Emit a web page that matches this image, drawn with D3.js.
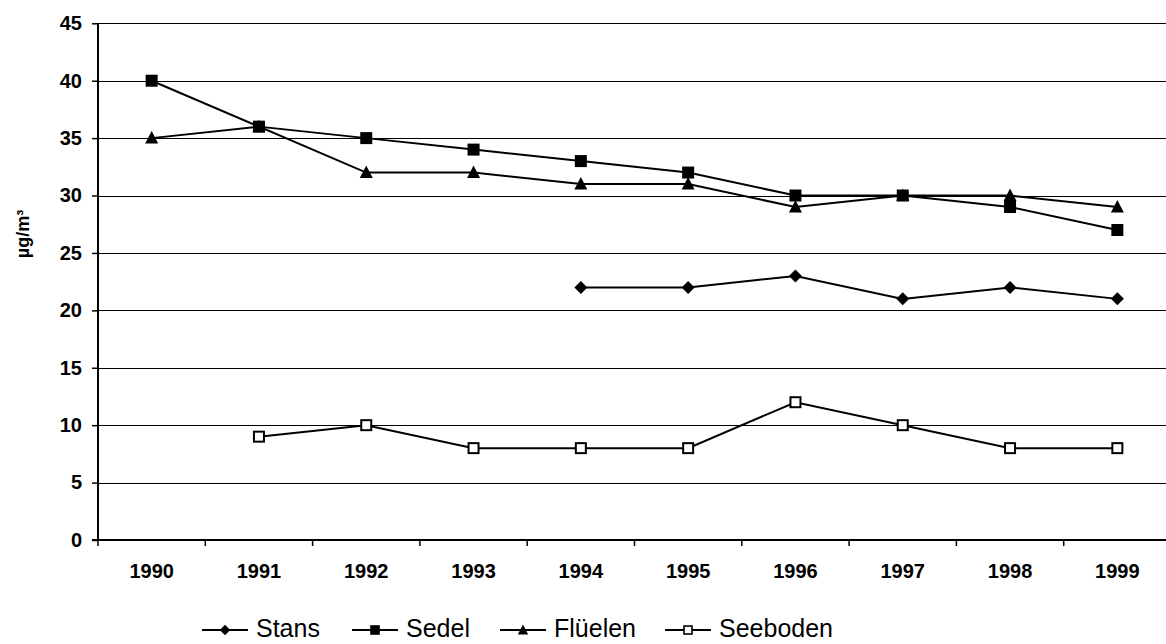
<!DOCTYPE html>
<html><head><meta charset="utf-8">
<script src="https://cdn.jsdelivr.net/npm/d3@7/dist/d3.min.js"></script>
<style>body{margin:0;background:#fff}svg{display:block}</style>
</head><body>
<svg id="c" width="1166" height="644"></svg>
<script>
const years = ["1990","1991","1992","1993","1994","1995","1996","1997","1998","1999"];
const stans    = [null,null,null,null,22,22,23,21,22,21];
const sedel    = [40,36,35,34,33,32,30,30,29,27];
const flueelen = [35,36,32,32,31,31,29,30,30,29];
const seeboden = [null,9,10,8,8,8,12,10,8,8];
const yTicks = [0,5,10,15,20,25,30,35,40,45];
const seriesNames = ["Stans","Sedel","Flüelen","Seeboden"];
const seriesData = [stans, sedel, flueelen, seeboden];
const markerTypes = ["diamond","square","triangle","opensquare"];

const svg = d3.select("#c");
const L = 98, R = 1171, T = 23.3, B = 540;
const x = d3.scaleBand().domain(years).range([L, R]);
const y = d3.scaleLinear().domain([0,45]).range([B, T]);
const font = "Liberation Sans, Arial, sans-serif";

// gridlines
svg.append("g").selectAll("line").data(yTicks.filter(d=>d>0)).join("line")
  .attr("x1",L).attr("x2",1166).attr("y1",d=>Math.round(y(d))+0.5).attr("y2",d=>Math.round(y(d))+0.5)
  .attr("stroke","#000").attr("stroke-width",1);

// y axis
const yAxis = d3.axisLeft(y).tickValues(yTicks).tickSize(6).tickPadding(10);
const gy = svg.append("g").attr("transform",`translate(${L},0)`).call(yAxis);
gy.select(".domain").attr("stroke-width",2).attr("d",`M0,${B}V${T}`);
gy.selectAll(".tick line").attr("stroke-width",1.5);
gy.selectAll(".tick text").attr("font-family",font).attr("font-weight","bold").attr("font-size",20).attr("fill","#000");

// x axis
const gx = svg.append("g").attr("transform",`translate(0,${B})`);
gx.append("line").attr("x1",L-6).attr("x2",1166).attr("y1",0).attr("y2",0).attr("stroke","#000").attr("stroke-width",2);
const bounds = years.map(d=>x(d)).concat([R]).filter(v=>v<=1166);
gx.selectAll("line.tk").data(bounds).join("line").attr("class","tk")
  .attr("x1",d=>d).attr("x2",d=>d).attr("y1",0).attr("y2",6).attr("stroke","#000").attr("stroke-width",1.5);
gx.selectAll("text").data(years).join("text")
  .attr("x",d=>x(d)+x.bandwidth()/2).attr("y",38)
  .attr("text-anchor","middle").attr("font-family",font).attr("font-weight","bold").attr("font-size",20).text(d=>d);

// y title
svg.append("text").attr("transform",`translate(29,234) rotate(-90)`)
  .attr("text-anchor","middle").attr("font-family",font).attr("font-weight","bold").attr("font-size",18).text("µg/m³");

function drawMarker(g, type, cx, cy, k){
  if(type==="diamond"){
    const s = 6.5*k;
    g.append("path").attr("d",`M${cx},${cy-s}L${cx+s},${cy}L${cx},${cy+s}L${cx-s},${cy}Z`).attr("fill","#000");
  } else if(type==="square"){
    const s = 6*k;
    g.append("rect").attr("x",cx-s).attr("y",cy-s).attr("width",2*s).attr("height",2*s).attr("fill","#000");
  } else if(type==="triangle"){
    g.append("path").attr("d",`M${cx},${cy-7*k}L${cx+6.5*k},${cy+5.5*k}L${cx-6.5*k},${cy+5.5*k}Z`).attr("fill","#000");
  } else {
    const s = 5*k;
    g.append("rect").attr("x",cx-s).attr("y",cy-s).attr("width",2*s).attr("height",2*s).attr("fill","#fff").attr("stroke","#000").attr("stroke-width",2*k);
  }
}

const line = d3.line().defined(d=>d.v!==null).x(d=>x(d.k)+x.bandwidth()/2).y(d=>y(d.v));
const plot = svg.append("g");
seriesData.forEach((arr,i)=>{
  const pts = years.map((k,j)=>({k, v: arr[j]}));
  plot.append("path").datum(pts).attr("d",line).attr("fill","none").attr("stroke","#000").attr("stroke-width",2);
});
seriesData.forEach((arr,i)=>{
  const g = plot.append("g");
  years.forEach((k,j)=>{
    if(arr[j]===null) return;
    drawMarker(g, markerTypes[i], x(k)+x.bandwidth()/2, y(arr[j]), 1);
  });
});

// legend
const legX = [202, 352, 500, 665];
const lg = svg.append("g");
seriesNames.forEach((n,i)=>{
  const ly = 630, lx = legX[i];
  lg.append("line").attr("x1",lx).attr("x2",lx+46).attr("y1",ly).attr("y2",ly).attr("stroke","#000").attr("stroke-width",2);
  drawMarker(lg, markerTypes[i], lx+23, ly, 0.8);
  lg.append("text").attr("x",lx+54).attr("y",637)
    .attr("font-family",font).attr("font-size",25).text(n);
});
</script>
</body></html>
